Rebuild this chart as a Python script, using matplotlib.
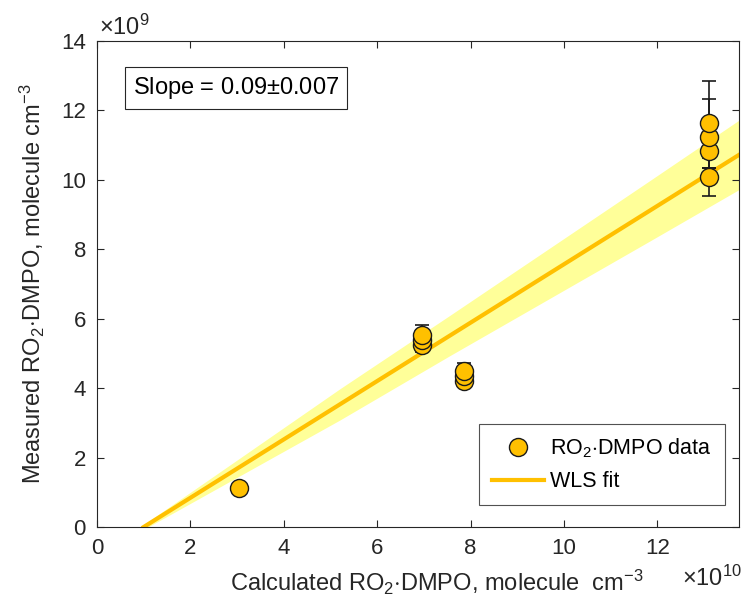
import numpy as np
import matplotlib
matplotlib.use('Agg')
import matplotlib.pyplot as plt

plt.rcParams['font.family'] = ['Liberation Sans', 'DejaVu Sans']
plt.rcParams['mathtext.fontset'] = 'custom'
plt.rcParams['mathtext.rm'] = 'Liberation Sans'
plt.rcParams['mathtext.it'] = 'Liberation Sans'

# measured vs calculated, x in 1e10, y in 1e9 molecule cm-3
calc_x = [3.05, 6.95, 6.95, 6.95, 7.85, 7.85, 7.85, 13.1, 13.1, 13.1, 13.1]
meas_y = [1.12, 5.25, 5.38, 5.52, 4.22, 4.35, 4.50, 10.09, 10.84, 11.24, 11.64]
err_lo = [0.10, 0.22, 0.30, 0.30, 0.08, 0.12, 0.20, 0.55, 0.50, 0.90, 1.00]
err_hi = [0.10, 0.25, 0.30, 0.30, 0.22, 0.20, 0.22, 0.26, 0.50, 1.10, 1.20]

# WLS fit line and its confidence band
fit_x = [1.0, 13.75]
fit_y = [0.0, 10.72]
band_x = [1.0, 3.0, 5.2, 7.55, 11.83, 13.75]
band_lo = [-0.07, 1.43, 3.08, 4.93, 8.23, 9.72]
band_hi = [0.07, 1.93, 3.98, 6.09, 9.97, 11.72]

xticks = [0, 2, 4, 6, 8, 10, 12]
yticks = [0, 2, 4, 6, 8, 10, 12, 14]

fig = plt.figure(figsize=(7.44, 6.13), dpi=100)
ax = fig.add_axes([97 / 744, 1 - 527 / 613, (739 - 97) / 744, (527 - 41) / 613])

ax.fill_between(band_x, band_lo, band_hi, color='#FFFF99', lw=0, zorder=1)
ax.plot(fit_x, fit_y, color='#FFC000', lw=3, zorder=2, label='WLS fit')
ax.errorbar(calc_x, meas_y, yerr=[err_lo, err_hi], fmt='none', ecolor='#1a1a1a',
            elinewidth=1.2, capsize=5, capthick=1.2, zorder=3)
ax.plot(calc_x, meas_y, 'o', ms=13, mfc='#FFC000', mec='#1a1a1a', mew=1.0,
        zorder=4, label=r'RO$_2$$\cdot$DMPO data')

ax.set_xlim(0, 13.75)
ax.set_ylim(0, 14)
ax.set_xticks(xticks)
ax.set_yticks(yticks)
ax.tick_params(direction='in', top=True, right=True, length=5, width=0.8,
               labelsize=16, colors='#262626', pad=8)
for sp in ax.spines.values():
    sp.set_color('#262626')
    sp.set_linewidth(0.8)

ax.set_xlabel(r'Calculated RO$_2$$\cdot$DMPO, molecule  cm$^{-3}$', fontsize=17,
              color='#262626', labelpad=8)
ax.xaxis.set_label_coords(0.53, -0.085)
ax.set_ylabel(r'Measured RO$_2$$\cdot$DMPO, molecule cm$^{-3}$', fontsize=17,
              color='#262626', labelpad=10)

fig.text(99 / 744, 1 - 27 / 613, r'$\times$10$^{9}$', fontsize=17,
         color='#262626', va='center', ha='left')
fig.text(742 / 744, 1 - 578 / 613, r'$\times$10$^{10}$', fontsize=17,
         color='#262626', va='center', ha='right')

ax.text(0.056, 0.903, 'Slope = 0.09$\\pm$0.007', transform=ax.transAxes,
        fontsize=17, va='center', ha='left', color='black',
        bbox=dict(boxstyle='square,pad=0.35', fc='white', ec='#262626', lw=0.8))

handles, labels = ax.get_legend_handles_labels()
leg = ax.legend(handles[::-1], labels[::-1], loc='lower right',
                bbox_to_anchor=(0.978, 0.045), borderaxespad=0, fontsize=15.5,
                frameon=True, fancybox=False, edgecolor='#262626',
                handlelength=2.4, borderpad=0.6, labelspacing=0.5,
                handletextpad=0.3)
leg.get_frame().set_linewidth(0.8)

fig.savefig('out.png', dpi=100)
